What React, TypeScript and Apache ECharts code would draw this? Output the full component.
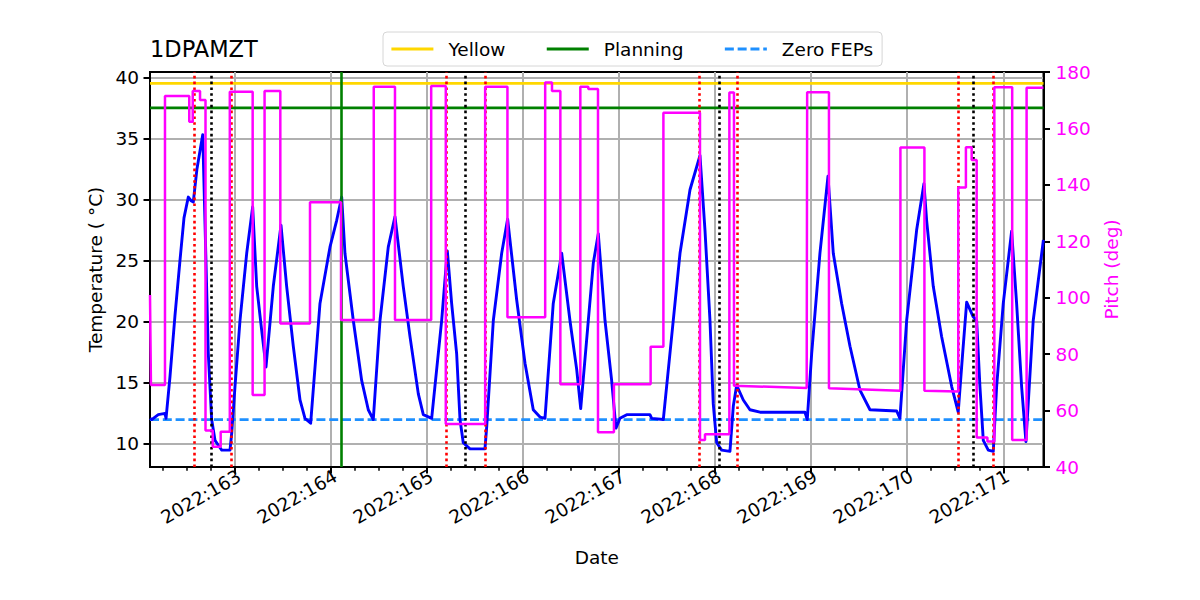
import React, { useEffect, useRef } from "react";
import * as echarts from "echarts";

const FONT = "DejaVu Sans";

// Axis extents (day of year 2022, temperature degC, pitch deg)
const X_MIN = 162.115;
const X_MAX = 171.419;
const T_MIN = 8.118;
const T_MAX = 40.43;
const P_MIN = 40;
const P_MAX = 180;

const dayTicks = [163, 164, 165, 166, 167, 168, 169, 170, 171];
const tempTicks = [10, 15, 20, 25, 30, 35, 40];

// 1DPAMZT temperature
const tempTimes = [
  162.115, 162.133, 162.201, 162.271, 162.282, 162.323, 162.375, 162.427, 162.469, 162.514,
  162.542, 162.566, 162.604, 162.664, 162.688, 162.722, 162.757, 162.792, 162.826, 162.862,
  162.948, 162.966, 163.0, 163.052, 163.122, 163.184, 163.226, 163.278, 163.323, 163.399,
  163.479, 163.538, 163.607, 163.677, 163.729, 163.788, 163.885, 163.989, 164.059, 164.111,
  164.145, 164.232, 164.319, 164.388, 164.44, 164.51, 164.596, 164.666, 164.752, 164.822,
  164.909, 164.961, 165.048, 165.152, 165.211, 165.256, 165.308, 165.343, 165.377, 165.447,
  165.603, 165.621, 165.69, 165.777, 165.839, 165.933, 166.02, 166.106, 166.176, 166.228,
  166.314, 166.402, 166.488, 166.558, 166.6, 166.679, 166.731, 166.783, 166.853, 166.922,
  166.967, 167.009, 167.079, 167.321, 167.339, 167.46, 167.529, 167.634, 167.738, 167.842,
  167.894, 167.946, 167.98, 168.016, 168.068, 168.154, 168.189, 168.224, 168.293, 168.362,
  168.467, 168.935, 168.959, 169.005, 169.091, 169.175, 169.23, 169.317, 169.404, 169.508,
  169.612, 169.89, 169.924, 169.994, 170.098, 170.174, 170.202, 170.271, 170.358, 170.463,
  170.531, 170.577, 170.619, 170.687, 170.723, 170.757, 170.792, 170.844, 170.896, 170.931,
  171.0, 171.087, 171.139, 171.191, 171.236, 171.312, 171.418,
];
const tempValues = [
  12.1, 12.0, 12.4, 12.5, 12.1, 15.5, 20.5, 25.0, 28.5, 30.2,
  29.9, 29.8, 32.5, 35.3, 28.0, 17.4, 12.0, 10.3, 9.9, 9.5,
  9.5, 10.9, 14.7, 20.1, 25.6, 29.4, 22.9, 19.3, 16.3, 22.9,
  27.9, 22.9, 18.0, 13.6, 12.1, 11.7, 21.5, 26.1, 28.3, 30.2,
  25.6, 20.1, 15.2, 12.8, 12.0, 20.1, 26.1, 28.6, 22.9, 18.8,
  14.1, 12.4, 12.1, 20.1, 25.8, 21.5, 17.4, 12.0, 10.1, 9.6,
  9.6, 11.4, 20.1, 25.6, 28.4, 21.8, 16.6, 12.8, 12.2, 12.1,
  21.5, 25.6, 20.1, 16.1, 12.9, 20.1, 24.8, 27.2, 20.1, 15.2,
  11.3, 12.1, 12.4, 12.4, 12.1, 12.0, 17.4, 25.6, 30.8, 33.6,
  27.5, 20.1, 13.3, 10.1, 9.5, 9.4, 13.1, 14.8, 13.6, 12.8,
  12.6, 12.6, 12.0, 17.4, 25.6, 31.9, 25.6, 21.5, 18.0, 14.4,
  12.8, 12.7, 12.1, 20.1, 27.5, 31.3, 28.3, 22.9, 18.8, 14.7,
  12.6, 17.4, 21.6, 20.4, 20.1, 14.7, 10.3, 9.5, 9.4, 14.7,
  21.5, 27.4, 21.5, 14.7, 10.2, 20.1, 26.7,
];

// Pitch (right axis)
const pitchTimes = [
  162.115, 162.125, 162.271, 162.271, 162.524, 162.524, 162.56, 162.56, 162.636, 162.636,
  162.693, 162.693, 162.768, 162.768, 162.851, 162.851, 162.946, 162.946, 163.184, 163.184,
  163.308, 163.308, 163.472, 163.472, 163.781, 163.781, 164.104, 164.104, 164.445, 164.445,
  164.666, 164.666, 165.043, 165.043, 165.195, 165.195, 165.605, 165.605, 165.837, 165.837,
  166.23, 166.23, 166.301, 166.301, 166.388, 166.388, 166.596, 166.596, 166.679, 166.679,
  166.78, 166.78, 166.946, 166.946, 167.328, 167.328, 167.461, 167.461, 167.842, 167.842,
  167.894, 167.894, 168.148, 168.148, 168.196, 168.196, 168.953, 168.958, 168.958, 169.185,
  169.185, 169.929, 169.929, 170.179, 170.179, 170.531, 170.531, 170.611, 170.611, 170.671,
  170.671, 170.723, 170.723, 170.835, 170.835, 170.907, 170.907, 171.093, 171.093, 171.243,
  171.243, 171.418,
];
const pitchValues = [
  101, 69.1, 69.1, 171.5, 171.5, 162.4, 162.4, 173.3, 173.3, 170.1,
  170.1, 52.9, 52.9, 47.2, 47.2, 52.5, 52.5, 173.0, 173.0, 65.5,
  65.5, 173.3, 173.3, 90.9, 90.9, 133.8, 133.8, 92.1, 92.1, 174.8,
  174.8, 92.1, 92.1, 175.0, 175.0, 55.2, 55.2, 174.8, 174.8, 93.1,
  93.1, 176.3, 176.3, 173.3, 173.3, 69.3, 69.3, 174.8, 174.8, 174.0,
  174.0, 52.3, 52.3, 69.3, 69.3, 82.6, 82.6, 165.6, 165.6, 49.6,
  49.6, 51.6, 51.6, 172.7, 172.7, 68.8, 68.0, 68.0, 172.8, 172.8,
  67.9, 67.0, 153.2, 153.2, 67.0, 66.8, 139.1, 139.1, 153.3, 153.3,
  148.8, 148.8, 50.5, 50.5, 49.0, 49.0, 174.6, 174.6, 49.6, 49.6,
  174.4, 174.4,
];

// Limits and events
const yellowLimit = 39.5;
const planningLimit = 37.5;
const zeroFepsLimit = 12.0;
const planningTime = 164.114;
const redEventTimes = [162.576, 162.958, 165.197, 165.613, 167.834, 168.23, 170.531, 170.896];
const blackEventTimes = [162.75, 165.398, 168.043, 170.687];

const minorDayTicks: number[] = [];
for (let d = 162; d <= 171; d++) {
  for (const q of [0.25, 0.5, 0.75]) {
    const v = d + q;
    if (v > X_MIN && v < X_MAX) minorDayTicks.push(v);
  }
}

const zip = (xs: number[], ys: number[]) => xs.map((x, i) => [x, ys[i]]);

export default function App() {
  const ref = useRef<HTMLDivElement>(null);

  useEffect(() => {
    document.body.style.margin = "0";
    if (!ref.current) return;
    const chart = echarts.init(ref.current, undefined, { renderer: "svg" });
    const txt = { fontFamily: FONT, fontSize: 18.5, color: "#000" };
    const hLine = (name: string, value: number, color: string, type: any) => ({
      name,
      type: "line",
      xAxisIndex: 0,
      yAxisIndex: 0,
      symbol: "none",
      silent: true,
      z: 3,
      data: [
        [X_MIN, value],
        [X_MAX, value],
      ],
      lineStyle: { color, width: 2.7, type },
      itemStyle: { color },
    });
    const dotted = (color: string) => ({ color, width: 2.6, type: [2.6, 3.2] });

    const option: any = {
      animation: false,
      backgroundColor: "#ffffff",
      textStyle: { fontFamily: FONT },
      title: {
        text: "1DPAMZT",
        left: 150,
        top: 37,
        padding: 0,
        textStyle: { fontFamily: FONT, fontSize: 22.5, fontWeight: "normal", color: "#000" },
      },
      legend: {
        data: ["Yellow", "Planning", "Zero FEPs"],
        left: 383,
        top: 32,
        orient: "horizontal",
        padding: [7.5, 9, 7.5, 7],
        itemWidth: 42,
        itemHeight: 14,
        itemGap: 40,
        borderColor: "#d6d6d6",
        borderWidth: 1,
        borderRadius: 4,
        backgroundColor: "#ffffff",
        itemStyle: { opacity: 0 },
        lineStyle: { width: 2.8 },
        textStyle: { ...txt, padding: [0, 0, 0, 10] },
      },
      grid: {
        left: 150,
        right: 156.5,
        top: 72,
        bottom: 133,
        show: true,
        borderColor: "#000",
        borderWidth: 2,
        backgroundColor: "transparent",
      },
      xAxis: [
        {
          type: "value",
          min: X_MIN,
          max: X_MAX,
          position: "bottom",
          name: "Date",
          nameLocation: "middle",
          nameGap: 81,
          nameTextStyle: txt,
          axisLine: { show: true, onZero: false, lineStyle: { color: "#000", width: 2 } },
          axisTick: { show: true, customValues: dayTicks, length: 6.5, lineStyle: { color: "#000", width: 2 } },
          axisLabel: {
            customValues: dayTicks,
            formatter: (v: number) => `2022:${Math.round(v)}`,
            rotate: 30,
            margin: 10,
            padding: [0, -5, 0, 0],
            ...txt,
          },
          splitLine: { show: true, lineStyle: { color: "#b0b0b0", width: 2 } },
        },
        {
          type: "value",
          min: X_MIN,
          max: X_MAX,
          position: "bottom",
          axisLine: { show: false, onZero: false },
          axisTick: { show: true, customValues: minorDayTicks, length: 3.8, lineStyle: { color: "#000", width: 1.5 } },
          axisLabel: { show: false },
          splitLine: { show: false },
        },
      ],
      yAxis: [
        {
          type: "value",
          min: T_MIN,
          max: T_MAX,
          position: "left",
          name: "Temperature ( °C)",
          nameLocation: "middle",
          nameRotate: 90,
          nameGap: 44,
          nameTextStyle: txt,
          axisLine: { show: true, onZero: false, lineStyle: { color: "#000", width: 2 } },
          axisTick: { show: true, customValues: tempTicks, length: 6.5, lineStyle: { color: "#000", width: 2 } },
          axisLabel: { customValues: tempTicks, margin: 11, ...txt },
          splitLine: { show: true, lineStyle: { color: "#b0b0b0", width: 2 } },
        },
        {
          type: "value",
          min: P_MIN,
          max: P_MAX,
          interval: 20,
          position: "right",
          name: "Pitch (deg)",
          nameLocation: "middle",
          nameRotate: 90,
          nameGap: 46,
          nameTextStyle: { ...txt, color: "#ff00ff" },
          axisLine: { show: true, onZero: false, lineStyle: { color: "#000", width: 2 } },
          axisTick: { show: true, length: 6.5, lineStyle: { color: "#000", width: 2 } },
          axisLabel: { margin: 12, ...txt, color: "#ff00ff" },
          splitLine: { show: false },
        },
      ],
      series: [
        hLine("Yellow", yellowLimit, "#ffd700", "solid"),
        hLine("Planning", planningLimit, "#008000", "solid"),
        hLine("Zero FEPs", zeroFepsLimit, "#1e90ff", [9, 3.8]),
        {
          name: "events",
          type: "line",
          xAxisIndex: 0,
          yAxisIndex: 0,
          data: [],
          silent: true,
          z: 3,
          markLine: {
            silent: true,
            symbol: ["none", "none"],
            label: { show: false },
            emphasis: { disabled: true },
            data: [
              ...redEventTimes.map((t) => ({ xAxis: t, lineStyle: dotted("#ff0000") })),
              ...blackEventTimes.map((t) => ({ xAxis: t, lineStyle: dotted("#000000") })),
              { xAxis: planningTime, lineStyle: { color: "#008000", width: 2.6, type: "solid" } },
            ],
          },
        },
        {
          name: "1DPAMZT",
          type: "line",
          xAxisIndex: 0,
          yAxisIndex: 0,
          symbol: "none",
          silent: true,
          z: 4,
          data: zip(tempTimes, tempValues),
          lineStyle: { color: "#0000ff", width: 2.9, join: "round" },
          itemStyle: { color: "#0000ff" },
        },
        {
          name: "Pitch",
          type: "line",
          xAxisIndex: 0,
          yAxisIndex: 1,
          symbol: "none",
          silent: true,
          z: 5,
          data: zip(pitchTimes, pitchValues),
          lineStyle: { color: "#ff00ff", width: 2.5 },
          itemStyle: { color: "#ff00ff" },
        },
      ],
    };
    chart.setOption(option);
    return () => chart.dispose();
  }, []);

  return <div ref={ref} style={{ width: 1200, height: 600 }} />;
}
